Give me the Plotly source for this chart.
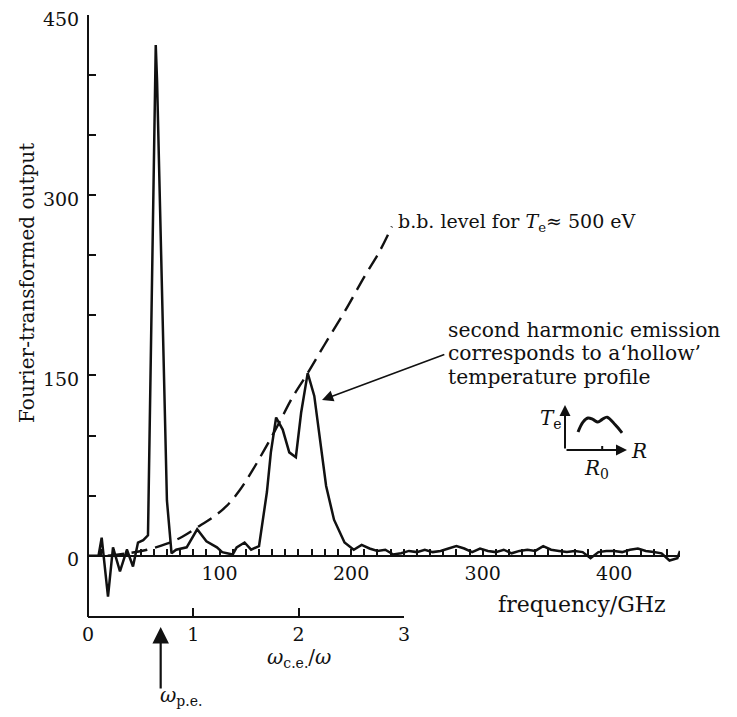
import plotly.graph_objects as go

# ---------------- data ----------------
# Fourier-transformed output vs frequency (GHz)
freq = [0, 8, 10.4, 15.2, 19, 24.3, 29.6, 34.2, 38, 42, 45.6, 51.5, 52.5, 60, 63.5,
        67, 75, 83, 90, 98, 102, 110, 113, 119, 124, 130, 136, 139, 143, 148, 153,
        158, 162, 167, 172, 176, 181, 187, 195, 202, 208, 214, 220, 226, 232, 238,
        244, 250, 256, 262, 268, 274, 280, 286, 292, 298, 304, 310, 316, 322, 328,
        334, 340, 346, 352, 358, 364, 370, 376, 382, 388, 394, 400, 406, 412, 418,
        424, 430, 436, 442, 448, 450]
output = [0, 0, 15, -34, 7, -13, 5, -9, 11, 13, 17, 425, 395, 46, 2,
          5, 7, 22, 12, 7, 3, 1, 7, 11, 5, 8, 53, 86, 115, 105, 86,
          82, 119, 152, 133, 99, 58, 30, 11, 5, 9, 6, 4, 5, 1, 2,
          4, 3, 5, 3, 4, 6, 8, 6, 3, 6, 4, 3, 5, 2, 4,
          5, 4, 8, 5, 4, 3, 4, 3, -2, 3, 4, 4, 3, 5, 6,
          4, 3, 2, -4, -2, 4]

# black-body level for Te ~ 500 eV (dashed)
bb_freq = [15, 30, 45, 60, 72, 85, 95, 105, 115, 125, 135, 145, 155, 167, 180, 195, 210, 222, 231]
bb_level = [0, 2, 5, 10, 16, 25, 32, 41, 54, 71, 90, 110, 131, 152, 176, 203, 232, 254, 274]

# lower axis: omega_ce / omega
harm_ticks = [0, 1, 2, 3]
omega_pe = 0.69

# inset hollow temperature profile (normalised units)
prof_R = [0.21, 0.29, 0.37, 0.45, 0.53, 0.60, 0.68, 0.81, 0.92]
prof_T = [0.40, 0.62, 0.71, 0.68, 0.62, 0.68, 0.73, 0.56, 0.38]
R0_pos = 0.6

y_ticks = [0, 150, 300, 450]
y_minor = [50, 100, 200, 250, 350, 400]
f_ticks = [100, 200, 300, 400]
f_minor = [v for v in range(10, 451, 10) if v not in f_ticks]

# ---------------- figure ----------------
FONT = "DejaVu Serif"
BLACK = "#111111"
YMIN, YMAX = -51, 450

fig = go.Figure()

fig.add_trace(go.Scatter(x=bb_freq, y=bb_level, mode="lines",
                         line=dict(color=BLACK, width=2.4, dash="16px,8px", shape="spline"),
                         hoverinfo="skip", showlegend=False))
fig.add_trace(go.Scatter(x=freq, y=output, mode="lines",
                         line=dict(color=BLACK, width=2.5),
                         hoverinfo="skip", showlegend=False))
# carrier trace for the lower (harmonic) axis
fig.add_trace(go.Scatter(x=[harm_ticks[0], harm_ticks[-1]], y=[YMIN, YMIN], mode="lines",
                         line=dict(color=BLACK, width=0), xaxis="x2", yaxis="y",
                         hoverinfo="skip", showlegend=False))
# inset profile
fig.add_trace(go.Scatter(x=prof_R, y=prof_T, mode="lines",
                         line=dict(color=BLACK, width=3, shape="spline"),
                         xaxis="x3", yaxis="y3", hoverinfo="skip", showlegend=False))

tickfont = dict(family=FONT, size=19, color=BLACK)

# plot area (in window pixels): x 88..680, y 15..617 ; page body adds 8px offset
PW, PH = 592, 602
X3R = [-0.4, 1.4]
Y3R = [-0.6, 1.1]
x3px = lambda u: 565 + 62 * u
y3px = lambda u: 450 - 45 * u

fig.update_layout(
    width=729, height=709,
    margin=dict(l=80, r=57, t=7, b=100),
    paper_bgcolor="white", plot_bgcolor="rgba(0,0,0,0)",
    template="none",
    showlegend=False,
    xaxis=dict(domain=[0, 1], range=[0, 450], anchor="free",
               position=(0 - YMIN) / (YMAX - YMIN),
               showline=True, linecolor=BLACK, linewidth=2,
               showgrid=False, zeroline=False, ticklabeloverflow="allow",
               tickmode="array", tickvals=f_ticks, ticks="inside", ticklen=6,
               tickwidth=1.5, tickcolor=BLACK, tickfont=tickfont,
               minor=dict(tickvals=f_minor, ticks="inside", ticklen=6,
                          tickwidth=1.5, tickcolor=BLACK)),
    yaxis=dict(domain=[0, 1], range=[YMIN, YMAX], anchor="free", position=0,
               showline=True, linecolor=BLACK, linewidth=2,
               showgrid=False, zeroline=False, ticklabelstandoff=4,
               ticklabelshift=4, ticklabeloverflow="allow",
               tickmode="array", tickvals=y_ticks, ticks="inside", ticklen=7,
               tickwidth=1.5, tickcolor=BLACK, tickfont=tickfont,
               minor=dict(tickvals=y_minor, ticks="inside", ticklen=7,
                          tickwidth=1.5, tickcolor=BLACK)),
    xaxis2=dict(domain=[0, (404 - 88) / PW], range=[0, 3], anchor="free", position=0,
                showline=True, linecolor=BLACK, linewidth=2,
                showgrid=False, zeroline=False, ticklabeloverflow="allow",
                tickmode="array", tickvals=harm_ticks, ticks="inside", ticklen=8,
                tickwidth=1.5, tickcolor=BLACK, tickfont=tickfont),
    xaxis3=dict(domain=[(x3px(X3R[0]) - 88) / PW, (x3px(X3R[1]) - 88) / PW], range=X3R,
                visible=False, anchor="y3"),
    yaxis3=dict(domain=[(617 - y3px(Y3R[0])) / PH, (617 - y3px(Y3R[1])) / PH], range=Y3R,
                visible=False, anchor="x3"),
)

def tfont(size):
    return dict(family=FONT, size=size, color=BLACK)

ann = []
# y title
ann.append(dict(text="Fourier-transformed output", xref="paper", yref="paper",
                x=-0.103, y=0.555, textangle=-90, showarrow=False, font=tfont(20),
                xanchor="center", yanchor="middle"))
# b.b. level
ann.append(dict(text="b.b. level for <i>T</i><sub>e</sub>≈ 500 eV", xref="x", yref="y",
                x=234, y=277, xanchor="left", yanchor="middle", showarrow=False,
                font=tfont(19)))
# second harmonic text
for line, yv in [("second harmonic emission", 188),
                 ("corresponds to a‘hollow’", 168.5),
                 ("temperature profile", 149)]:
    ann.append(dict(text=line, xref="x", yref="y", x=272.5, y=yv, xanchor="left",
                    yanchor="middle", showarrow=False, font=tfont(20.3)))
# arrow to 2nd harmonic peak
ann.append(dict(text="", xref="x", yref="y", x=177.9, y=129.6, axref="x", ayref="y",
                ax=272.0, ay=168, showarrow=True, arrowhead=2, arrowsize=1.4,
                arrowwidth=1.6, arrowcolor=BLACK))
# frequency label
ann.append(dict(text="frequency/GHz", xref="x", yref="y", x=440.5, y=-41,
                xanchor="right", yanchor="middle", showarrow=False, font=tfont(22)))
# lower axis label
ann.append(dict(text="<i>ω</i><sub>c.e.</sub>/<i>ω</i>", xref="x2", yref="paper",
                x=2.0, y=-0.068, xanchor="center", yanchor="middle",
                showarrow=False, font=tfont(20)))
# omega_pe arrow and label
ann.append(dict(text="", xref="x2", yref="paper", x=omega_pe, y=-0.0166,
                ax=0, ay=63, showarrow=True, arrowhead=2, arrowsize=1.5,
                arrowwidth=2.2, arrowcolor=BLACK))
ann.append(dict(text="<i>ω</i><sub>p.e.</sub>", xref="x2", yref="paper",
                x=omega_pe - 0.03, y=-0.132, xanchor="left", yanchor="middle",
                showarrow=False, font=tfont(20)))
# inset axes arrows
ann.append(dict(text="", xref="x3", yref="y3", x=0, y=1.0, axref="x3", ayref="y3",
                ax=0, ay=0, showarrow=True, arrowhead=2, arrowsize=1.1,
                arrowwidth=2, arrowcolor=BLACK))
ann.append(dict(text="", xref="x3", yref="y3", x=1.0, y=0, axref="x3", ayref="y3",
                ax=0, ay=0, showarrow=True, arrowhead=2, arrowsize=1.1,
                arrowwidth=2, arrowcolor=BLACK))
ann.append(dict(text="<i>T</i><sub>e</sub>", xref="x3", yref="y3", x=-0.02, y=0.68,
                xanchor="right", yanchor="middle", showarrow=False, font=tfont(20)))
ann.append(dict(text="<i>R</i><sub>0</sub>", xref="x3", yref="y3", x=0.5, y=-0.42,
                xanchor="center", yanchor="middle", showarrow=False, font=tfont(20)))
ann.append(dict(text="<i>R</i>", xref="x3", yref="y3", x=1.03, y=-0.02,
                xanchor="left", yanchor="middle", showarrow=False, font=tfont(20)))
fig.update_layout(annotations=ann)

fig.add_shape(type="line", xref="x3", yref="y3", x0=R0_pos, x1=R0_pos, y0=0, y1=0.09,
              line=dict(color=BLACK, width=2))

fig.write_html("out.html")
